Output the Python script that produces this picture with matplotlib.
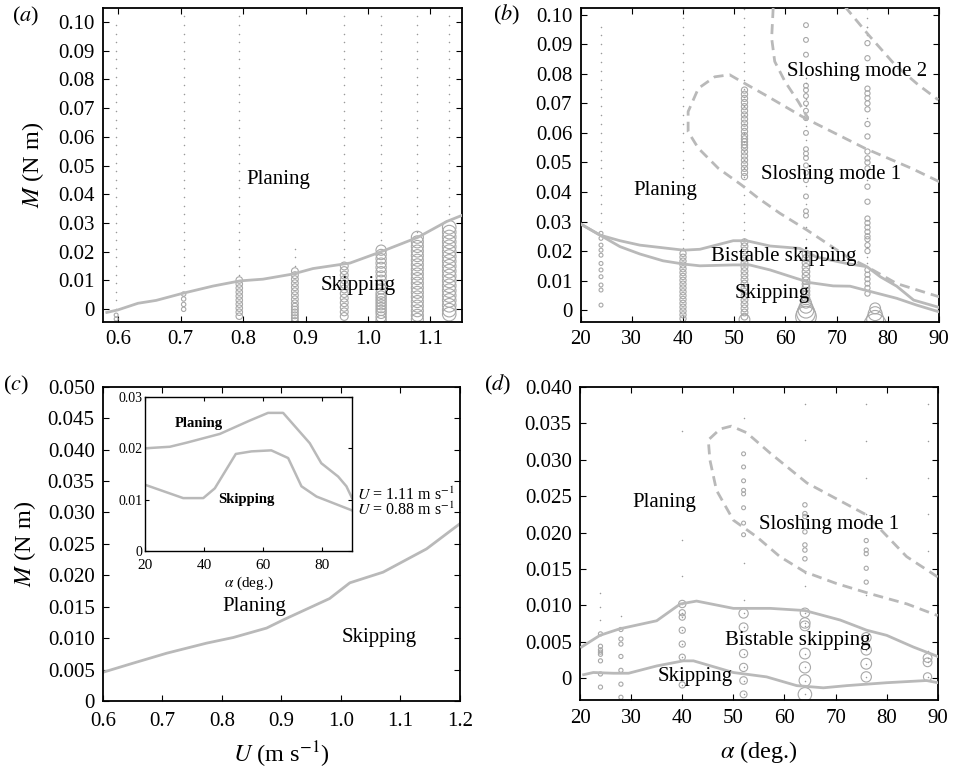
import matplotlib
matplotlib.use('Agg')
from matplotlib import pyplot as plt

plt.rcParams['font.family'] = ['Liberation Serif', 'DejaVu Serif']
plt.rcParams['mathtext.fontset'] = 'stix'

LINE = '#b9b9b9'
CIRC = '#a8a8a8'
DASH = (0, (3.6, 2.2))

# ---------------- panel (a): M vs U ----------------
a_line_U = [0.582, 0.600, 0.632, 0.661, 0.704, 0.752, 0.795, 0.832, 0.880, 0.912, 0.971, 1.019, 1.080, 1.126, 1.150]
a_line_M = [-0.0012, -0.0003, 0.0020, 0.0030, 0.0055, 0.0080, 0.0098, 0.0104, 0.0122, 0.0141, 0.0160, 0.0198, 0.0250, 0.0305, 0.0326]

a_cols = [0.597, 0.705, 0.794, 0.883, 0.962, 1.021, 1.079, 1.130]
a_circ_M = [
    [-0.0021, -0.0035],
    [0.0052, 0.0035, 0.0016, -0.0001],
    [0.0101, 0.0087, 0.0073, 0.0059, 0.0045, 0.0031, 0.0017, 0.0003, -0.0011, -0.0025],
    [0.0132, 0.0118, 0.0104, 0.0090, 0.0076, 0.0062, 0.0048, 0.0034, 0.0020, 0.0008, -0.0002, -0.0012, -0.0022, -0.0032, -0.0042],
    [0.0150, 0.0134, 0.0118, 0.0102, 0.0086, 0.0070, 0.0054, 0.0038, 0.0022, 0.0006, -0.0010, -0.0026],
    [0.0205, 0.0190, 0.0175, 0.0160, 0.0145, 0.0130, 0.0115, 0.0100, 0.0085, 0.0070, 0.0055, 0.0045, 0.0035, 0.0025, 0.0015, 0.0005, -0.0005, -0.0015, -0.0028, -0.0040],
    [0.0250, 0.0234, 0.0218, 0.0202, 0.0186, 0.0170, 0.0154, 0.0138, 0.0122, 0.0106, 0.0090, 0.0074, 0.0058, 0.0042, 0.0026, 0.0010, -0.0006, -0.0022, -0.0036],
    [0.0285, 0.0268, 0.0251, 0.0234, 0.0217, 0.0200, 0.0183, 0.0166, 0.0149, 0.0132, 0.0115, 0.0098, 0.0081, 0.0064, 0.0047, 0.0030, 0.0013, -0.0004, -0.0018],
]
a_circ_s = [8, 10, 22, 24, 32, 55, 75, 95]
a_dot_range = [(0.0, 0.100), (0.008, 0.102), (0.012, 0.102), (0.015, 0.021),
               (0.017, 0.102), (0.023, 0.102), (0.027, 0.102), (0.031, 0.102)]

# tested moment grid (planing runs shown as dots)
M_grid = [0.000, 0.003, 0.006, 0.009, 0.012, 0.015, 0.018, 0.021, 0.024, 0.027, 0.030,
          0.033, 0.036, 0.039, 0.042, 0.045, 0.048, 0.051, 0.054, 0.057, 0.060, 0.063,
          0.066, 0.069, 0.072, 0.075, 0.078, 0.081, 0.084, 0.087, 0.090, 0.093, 0.096, 0.099, 0.102]

# ---------------- panel (b): M vs alpha, U = 1.11 ----------------
b_up_a = [20, 23.8, 27.7, 31.6, 40.1, 43.3, 49.8, 52.4, 57.0, 62.8, 66.0, 71.9, 75.9, 78.5, 81.7, 85.0, 90.0]
b_up_M = [0.0292, 0.0254, 0.0235, 0.0220, 0.0203, 0.0206, 0.0235, 0.0235, 0.0217, 0.0209, 0.0180, 0.0158, 0.0147, 0.0113, 0.0081, 0.0034, 0.0009]
b_lo_a = [20, 23.8, 27.7, 31.6, 36.1, 40.1, 43.3, 49.8, 53.0, 57.0, 62.2, 64.8, 69.3, 72.6, 75.9, 81.7, 85.6, 90.0]
b_lo_M = [0.0292, 0.0254, 0.0215, 0.0190, 0.0167, 0.0156, 0.0150, 0.0153, 0.0153, 0.0136, 0.0107, 0.0093, 0.0082, 0.0081, 0.0066, 0.0040, 0.0017, -0.0006]

b_s1_a = [90.0, 84.6, 75.5, 63.8, 56.0, 51.4, 49.1, 46.2, 43.0, 41.0, 41.0, 43.0, 46.9, 51.4, 54.7, 58.9, 64.2, 72.0, 75.9, 81.7, 90.0]
b_s1_M = [0.0435, 0.0480, 0.0548, 0.0650, 0.0729, 0.0774, 0.0797, 0.0790, 0.0751, 0.0672, 0.0604, 0.0548, 0.0480, 0.0424, 0.0379, 0.0328, 0.0271, 0.0181, 0.0147, 0.0090, 0.0045]
b_s2l_a = [57.6, 57.3, 57.9, 59.9, 62.5, 64.4]
b_s2l_M = [0.1023, 0.0921, 0.0842, 0.0774, 0.0706, 0.0650]
b_s2r_a = [71.6, 76.2, 81.4, 85.9, 89.8]
b_s2r_M = [0.1028, 0.0932, 0.0830, 0.0763, 0.0712]

b_cols = [24, 40, 52, 52, 52, 64, 64, 64, 76, 77.5]
b_circ_M = [
    [0.0260, 0.0243, 0.0220, 0.0203, 0.0186, 0.0158, 0.0136, 0.0113, 0.0085, 0.0068, 0.0017],
    [0.0192, 0.0179, 0.0166, 0.0153, 0.0140, 0.0127, 0.0114, 0.0101, 0.0088, 0.0075, 0.0062, 0.0049, 0.0036, 0.0023, 0.0010, -0.0003, -0.0016, -0.0029],
    [0.0745, 0.0731, 0.0717, 0.0703, 0.0689, 0.0675, 0.0661, 0.0647, 0.0633, 0.0619, 0.0605, 0.0591, 0.0580, 0.0570, 0.0560, 0.0550, 0.0536, 0.0522, 0.0508, 0.0494, 0.0480, 0.0466, 0.0452],
    [0.0230, 0.0216, 0.0202, 0.0188, 0.0174, 0.0160, 0.0146, 0.0132, 0.0118, 0.0104, 0.0090, 0.0076, 0.0062, 0.0048, 0.0034, 0.0020, 0.0006, -0.0008, -0.0022],
    [-0.0032],
    [0.0965, 0.0915, 0.0865, 0.0760, 0.0745, 0.0725, 0.0700, 0.0675, 0.0650, 0.0600, 0.0545, 0.0530, 0.0515, 0.0490, 0.0465, 0.0440, 0.0385, 0.0335, 0.0320],
    [0.0190, 0.0175, 0.0160, 0.0145, 0.0130, 0.0115, 0.0100, 0.0088, 0.0076, 0.0064, 0.0052, 0.0040],
    [0.0025, 0.0012, 0.0000, -0.0012, -0.0022],
    [0.0904, 0.0853, 0.0750, 0.0734, 0.0718, 0.0700, 0.0680, 0.0630, 0.0588, 0.0537, 0.0514, 0.0500, 0.0480, 0.0418, 0.0367, 0.0310, 0.0295, 0.0280, 0.0265, 0.0250, 0.0240, 0.0220, 0.0200, 0.0136, 0.0120, 0.0105, 0.0090, 0.0075, 0.0056],
    [0.0006, -0.0012, -0.0030, -0.0050],
]
b_circ_s = [8, 20, 20, 24, 60, 12, 30, [60, 90, 130, 180, 220], 14, [60, 100, 150, 260]]
b_dot_cols = [24, 40, 52, 76]
b_dot_range = [(0.028, 0.096), (0.021, 0.102), (0.024, 0.102), (0.092, 0.102)]
b_dot_x = [64] * 11 + [76] * 7
b_dot_M = [0.0785, 0.0770, 0.0715, 0.0690, 0.0625, 0.0575, 0.0420, 0.0360, 0.0280, 0.0240, 0.0215,
           0.0960, 0.0800, 0.0650, 0.0440, 0.0215, 0.0180, 0.0160]

# ---------------- panel (c): boundary vs U, inset vs alpha ----------------
c_U = [0.600, 0.650, 0.707, 0.774, 0.819, 0.875, 0.903, 0.981, 1.015, 1.071, 1.144, 1.200]
c_M = [0.00457, 0.0060, 0.0076, 0.0092, 0.0101, 0.0116, 0.0129, 0.0163, 0.0188, 0.0205, 0.0242, 0.0282]
in_up_a = [20, 28.4, 34.1, 45.3, 55.4, 61.6, 66.7, 75.7, 79.6, 85.3, 88.1, 90]
in_up_M = [0.0200, 0.0203, 0.0211, 0.0228, 0.0254, 0.0269, 0.0269, 0.0210, 0.0171, 0.0145, 0.0126, 0.0103]
in_lo_a = [20, 32.9, 39.7, 43.6, 50.7, 56.0, 62.7, 68.4, 72.9, 78.0, 90]
in_lo_M = [0.0129, 0.0103, 0.0103, 0.0122, 0.0189, 0.0194, 0.0196, 0.0181, 0.0126, 0.0106, 0.0079]

# ---------------- panel (d): M vs alpha, U = 0.88 ----------------
d_up_a = [20.3, 23.9, 27.8, 35.0, 39.6, 42.8, 50.0, 57.2, 64.0, 70.9, 76.1, 80.0, 85.2, 90.0]
d_up_M = [0.0043, 0.0059, 0.0068, 0.0079, 0.0102, 0.0106, 0.0096, 0.0096, 0.0093, 0.0080, 0.0066, 0.0059, 0.0043, 0.0030]
d_lo_a = [20.7, 22.6, 26.5, 29.5, 35.0, 40.2, 42.2, 50.0, 56.5, 62.4, 67.6, 72.2, 80.0, 87.8, 90.0]
d_lo_M = [0.0005, 0.0008, 0.0007, 0.0007, 0.0017, 0.0024, 0.0024, 0.0008, 0.0002, -0.0010, -0.0013, -0.0010, -0.0006, -0.0003, -0.0006]
d_s1_a = [90.0, 83.9, 76.1, 64.4, 57.2, 52.6, 49.6, 47.4, 45.1, 45.4, 46.7, 50.0, 54.6, 59.1, 64.0, 70.2, 76.8, 84.0, 90.0]
d_s1_M = [0.0139, 0.0167, 0.0224, 0.0268, 0.0309, 0.0337, 0.0346, 0.0342, 0.0327, 0.0300, 0.0258, 0.0217, 0.0194, 0.0167, 0.0146, 0.0130, 0.0116, 0.0102, 0.0086]

d_cols = [24, 28, 40, 40, 52, 52, 64, 64, 76, 76, 88]
d_circ_M = [
    [0.0061, 0.0044, 0.0039, 0.0036, 0.0033, 0.0024, 0.0006, -0.0012],
    [0.0067, 0.0054, 0.0047, 0.0030, 0.0011, -0.0008, -0.0026],
    [0.0090, 0.0084, 0.0066, 0.0047, 0.0029, -0.0009],
    [0.0102],
    [0.0089, 0.0070, 0.0034, 0.0015, -0.0003, -0.0022],
    [0.0308, 0.0290, 0.0271, 0.0258, 0.0253, 0.0234, 0.0213, 0.0197],
    [0.0090, 0.0076, 0.0072, 0.0034, 0.0015, -0.0003, -0.0022],
    [0.0238, 0.0226, 0.0222, 0.0201, 0.0183, 0.0176, 0.0164],
    [0.0056, 0.0039, 0.0020, 0.0002],
    [0.0189, 0.0176, 0.0171, 0.0151, 0.0132],
    [0.0028, 0.0022, 0.0002],
]
d_circ_s = [9, 9, 20, 28, [45, 40, 35, 35, 30, 25], 8, [45, 55, 50, 60, 65, 70, 95], 10, [50, 55, 60, 55], 9, [40, 40, 35]]
d_dot_x = [24, 24, 24, 24, 28, 40, 40, 40, 40, 52, 52, 52, 64, 64, 64, 64, 76, 76, 76, 76, 76, 88, 88, 88, 88, 88, 88]
d_dot_M = [0.0117, 0.0098, 0.0080, -0.0032, 0.0085, 0.0340, 0.0190, 0.0140, 0.0011, 0.0357, 0.0158, 0.0107,
           0.0376, 0.0327, 0.0145, 0.0126, 0.0376, 0.0325, 0.0275, 0.0226, 0.0114,
           0.0376, 0.0325, 0.0275, 0.0226, 0.0175, 0.0038]

fig = plt.figure(figsize=(9.54, 7.72), dpi=100)
ax_a = fig.add_axes([0.108, 0.583, 0.376, 0.407])
ax_b = fig.add_axes([0.6085, 0.583, 0.376, 0.407])
ax_c = fig.add_axes([0.108, 0.092, 0.374, 0.407])
ax_d = fig.add_axes([0.608, 0.093, 0.375, 0.406])
ax_in = fig.add_axes([0.152, 0.2863, 0.217, 0.1995])

TICK = 15
for ax in (ax_a, ax_b, ax_c, ax_d, ax_in):
    ax.tick_params(direction='in', top=True, right=True, length=4.5, width=0.8,
                   labelsize=TICK, pad=6)
    for sp in ax.spines.values():
        sp.set_linewidth(1.3)


def circles(ax, x, Ms, s, z=2):
    ax.scatter([x] * len(Ms), Ms, s=s, facecolors='none', edgecolors=CIRC,
               linewidths=0.8, zorder=z, clip_on=True)


def dots(ax, xs, Ms):
    ax.scatter(xs, Ms, s=1.2, color='#9a9a9a', linewidths=0, zorder=2)


# (a)
for x, Ms, s, (lo, hi) in zip(a_cols, a_circ_M, a_circ_s, a_dot_range):
    circles(ax_a, x, Ms, s)
    sel = [m for m in M_grid if lo <= m <= hi]
    dots(ax_a, [x] * len(sel), sel)
ax_a.plot(a_line_U, a_line_M, color=LINE, lw=2, zorder=3)
ax_a.set_xlim(0.576, 1.15)
ax_a.set_ylim(-0.0045, 0.105)
ax_a.set_xticks([0.6, 0.7, 0.8, 0.9, 1.0, 1.1])
ax_a.set_xticklabels(['0.6', '0.7', '0.8', '0.9', '1.0', '1.1'])
ax_a.set_yticks([0, 0.01, 0.02, 0.03, 0.04, 0.05, 0.06, 0.07, 0.08, 0.09, 0.10])
ax_a.set_yticklabels(['0', '0.01', '0.02', '0.03', '0.04', '0.05', '0.06', '0.07', '0.08', '0.09', '0.10'])
ax_a.set_ylabel(r'$M$ (N m)', fontsize=17.5, labelpad=9)
ax_a.text(0.856, 0.0452, 'Planing', fontsize=15, ha='center', va='center')
ax_a.text(0.984, 0.0082, 'Skipping', fontsize=15, ha='center', va='center', zorder=5)

# (b)
for x, Ms, s in zip(b_cols, b_circ_M, b_circ_s):
    circles(ax_b, x, Ms, s)
for x, (lo, hi) in zip(b_dot_cols, b_dot_range):
    sel = [m for m in M_grid if lo <= m <= hi]
    dots(ax_b, [x] * len(sel), sel)
dots(ax_b, b_dot_x, b_dot_M)
ax_b.plot(b_up_a, b_up_M, color=LINE, lw=2, zorder=3)
ax_b.plot(b_lo_a, b_lo_M, color=LINE, lw=2, zorder=3)
for xs, ys in ((b_s1_a, b_s1_M), (b_s2l_a, b_s2l_M), (b_s2r_a, b_s2r_M)):
    ax_b.plot(xs, ys, color=LINE, lw=2.0, ls=DASH, zorder=3)
ax_b.set_xlim(20, 90)
ax_b.set_ylim(-0.004, 0.1024)
ax_b.set_xticks([20, 30, 40, 50, 60, 70, 80, 90])
ax_b.set_yticks([0, 0.01, 0.02, 0.03, 0.04, 0.05, 0.06, 0.07, 0.08, 0.09, 0.10])
ax_b.set_yticklabels(['0', '0.01', '0.02', '0.03', '0.04', '0.05', '0.06', '0.07', '0.08', '0.09', '0.10'])
ax_b.text(73.9, 0.0808, 'Sloshing mode 2', fontsize=15, ha='center', va='center')
ax_b.text(68.9, 0.0458, 'Sloshing mode 1', fontsize=15, ha='center', va='center')
ax_b.text(36.5, 0.0405, 'Planing', fontsize=15, ha='center', va='center')
ax_b.text(59.6, 0.0183, 'Bistable skipping', fontsize=15, ha='center', va='center', zorder=5)
ax_b.text(57.5, 0.0056, 'Skipping', fontsize=15, ha='center', va='center', zorder=5)

# (c)
ax_c.plot(c_U, c_M, color=LINE, lw=2)
ax_c.set_xlim(0.6, 1.2)
ax_c.set_ylim(0, 0.050)
ax_c.set_xticks([0.6, 0.7, 0.8, 0.9, 1.0, 1.1, 1.2])
ax_c.set_xticklabels(['0.6', '0.7', '0.8', '0.9', '1.0', '1.1', '1.2'])
ax_c.set_yticks([0, 0.005, 0.010, 0.015, 0.020, 0.025, 0.030, 0.035, 0.040, 0.045, 0.050])
ax_c.set_yticklabels(['0', '0.005', '0.010', '0.015', '0.020', '0.025', '0.030', '0.035', '0.040', '0.045', '0.050'])
ax_c.tick_params(axis='x', pad=8)
ax_c.set_ylabel(r'$M$ (N m)', fontsize=17.5, labelpad=7)
ax_c.set_xlabel(r'$U$ (m s$^{-1}$)', fontsize=17.5, labelpad=6)
ax_c.text(0.855, 0.0150, 'Planing', fontsize=15, ha='center', va='center')
ax_c.text(1.065, 0.0101, 'Skipping', fontsize=15, ha='center', va='center')

ax_in.plot(in_up_a, in_up_M, color=LINE, lw=1.8)
ax_in.plot(in_lo_a, in_lo_M, color=LINE, lw=1.8)
ax_in.set_xlim(20, 90)
ax_in.set_ylim(0, 0.03)
ax_in.set_xticks([20, 40, 60, 80])
ax_in.set_yticks([0, 0.01, 0.02, 0.03])
ax_in.set_yticklabels(['0', '0.01', '0.02', '0.03'])
ax_in.tick_params(labelsize=11, length=3, pad=2)
ax_in.tick_params(axis='x', pad=5.5)
ax_in.tick_params(axis='y', labelsize=10)
for sp in ax_in.spines.values():
    sp.set_linewidth(1.0)
ax_in.set_xlabel(r'$\alpha$ (deg.)', fontsize=11, labelpad=2)
ax_in.text(29.9, 0.0249, 'Planing', fontsize=10.5, fontweight='bold', ha='left', va='center')
ax_in.text(44.8, 0.0100, 'Skipping', fontsize=10.5, fontweight='bold', ha='left', va='center')
fig.text(0.374, 0.359, r'$U$ = 1.11 m s$^{-1}$', fontsize=11.5, ha='left', va='center')
fig.text(0.374, 0.339, r'$U$ = 0.88 m s$^{-1}$', fontsize=11.5, ha='left', va='center')

# (d)
for x, Ms, s in zip(d_cols, d_circ_M, d_circ_s):
    circles(ax_d, x, Ms, s)
    if not isinstance(s, int) or s >= 20:
        dots(ax_d, [x] * len(Ms), Ms)
dots(ax_d, d_dot_x, d_dot_M)
ax_d.plot(d_up_a, d_up_M, color=LINE, lw=2, zorder=3)
ax_d.plot(d_lo_a, d_lo_M, color=LINE, lw=2, zorder=3)
ax_d.plot(d_s1_a, d_s1_M, color=LINE, lw=2.0, ls=DASH, zorder=3)
ax_d.set_xlim(20, 90)
ax_d.set_ylim(-0.003, 0.040)
ax_d.set_xticks([20, 30, 40, 50, 60, 70, 80, 90])
ax_d.set_yticks([0, 0.005, 0.010, 0.015, 0.020, 0.025, 0.030, 0.035, 0.040])
ax_d.set_yticklabels(['0', '0.005', '0.010', '0.015', '0.020', '0.025', '0.030', '0.035', '0.040'])
ax_d.set_xlabel(r'$\alpha$ (deg.)', fontsize=17.5, labelpad=8)
ax_d.text(36.4, 0.0241, 'Planing', fontsize=15, ha='center', va='center')
ax_d.text(68.8, 0.0211, 'Sloshing mode 1', fontsize=15, ha='center', va='center')
ax_d.text(62.6, 0.0052, 'Bistable skipping', fontsize=15, ha='center', va='center', zorder=5)
ax_d.text(42.5, 0.0002, 'Skipping', fontsize=15, ha='center', va='center', zorder=5)

# panel letters
for lbl, px, py in (('a', 26, 16), ('b', 507, 15), ('c', 16, 385), ('d', 498, 385)):
    fig.text(px / 954, 1 - py / 772, '(' + r'$' + lbl + '$' + ')', fontsize=16,
             ha='center', va='center')

fig.savefig('out.png', dpi=100)
